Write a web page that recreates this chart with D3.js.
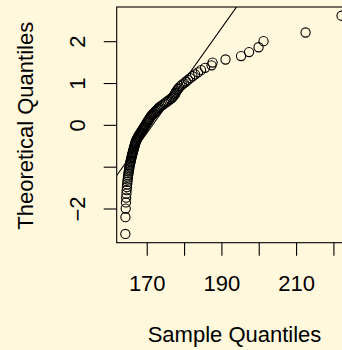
<!DOCTYPE html>
<html>
<head>
<meta charset="utf-8">
<script src="https://cdn.jsdelivr.net/npm/d3@7"></script>
<style>
  html, body { margin: 0; padding: 0; background: #FFF8DC; }
  svg { display: block; }
  text { font-family: "Liberation Sans", Arial, Helvetica, sans-serif; fill: #000; }
</style>
</head>
<body>
<svg id="chart" width="342" height="350"></svg>
<script>
// Sorted sample values (x axis, "Sample Quantiles")
const sampleValues = [
  164.27, 164.29, 164.37, 164.43, 164.48, 164.56, 164.62, 164.70, 164.75, 164.83,
  164.88, 164.96, 165.02, 165.10, 165.18, 165.26, 165.31, 165.39, 165.47, 165.55,
  165.63, 165.71, 165.79, 165.88, 165.96, 166.04, 166.12, 166.20, 166.30, 166.38,
  166.46, 166.54, 166.62, 166.71, 166.79, 166.87, 166.95, 167.03, 167.13, 167.26,
  167.40, 167.54, 167.67, 167.80, 167.99, 168.15, 168.31, 168.47, 168.63, 168.79,
  168.96, 169.12, 169.28, 169.44, 169.60, 169.76, 169.92, 170.08, 170.24, 170.40,
  170.56, 170.72, 170.88, 171.07, 171.29, 171.50, 171.71, 171.96, 172.22, 172.49,
  172.76, 173.03, 173.29, 173.56, 173.96, 174.37, 174.77, 175.17, 175.57, 175.97,
  176.38, 176.78, 177.04, 177.31, 177.58, 177.71, 177.85, 178.12, 178.38, 178.65,
  179.05, 179.46, 179.99, 180.53, 181.06, 181.60, 182.27, 182.94, 183.74, 184.54,
  185.62, 187.36, 187.63, 191.10, 195.26, 197.40, 199.95, 201.29, 212.54, 222.18
];

const xTickValues = [170, 180, 190, 200, 210, 220];
const xTickLabels = ["170", "", "190", "", "210", ""];   // R drops overlapping labels
const yTickValues = [-2, -1, 0, 1, 2];
const yTickLabels = ["\u22122", "", "0", "1", "2"];
const xTitle = "Sample Quantiles";
const yTitle = "Theoretical Quantiles";

// ---- statistics helpers (as in R's qqnorm / qqline) ----
function qnorm(p) {
  const a = [-3.969683028665376e+01, 2.209460984245205e+02, -2.759285104469687e+02,
             1.383577518672690e+02, -3.066479806614716e+01, 2.506628277459239e+00];
  const b = [-5.447609879822406e+01, 1.615858368580409e+02, -1.556989798598866e+02,
             6.680131188771972e+01, -1.328068155288572e+01];
  const c = [-7.784894002430293e-03, -3.223964580411365e-01, -2.400758277161838e+00,
             -2.549732539343734e+00, 4.374664141464968e+00, 2.938163982698783e+00];
  const d = [7.784695709041462e-03, 3.224671290700398e-01, 2.445134137142996e+00,
             3.754408661907416e+00];
  const pl = 0.02425, ph = 1 - pl;
  let q, r;
  if (p < pl) {
    q = Math.sqrt(-2 * Math.log(p));
    return (((((c[0]*q+c[1])*q+c[2])*q+c[3])*q+c[4])*q+c[5]) / ((((d[0]*q+d[1])*q+d[2])*q+d[3])*q+1);
  } else if (p <= ph) {
    q = p - 0.5; r = q * q;
    return (((((a[0]*r+a[1])*r+a[2])*r+a[3])*r+a[4])*r+a[5])*q / (((((b[0]*r+b[1])*r+b[2])*r+b[3])*r+b[4])*r+1);
  } else {
    q = Math.sqrt(-2 * Math.log(1 - p));
    return -(((((c[0]*q+c[1])*q+c[2])*q+c[3])*q+c[4])*q+c[5]) / ((((d[0]*q+d[1])*q+d[2])*q+d[3])*q+1);
  }
}
function quantile7(sorted, p) {
  const h = (sorted.length - 1) * p, lo = Math.floor(h);
  return sorted[lo] + (h - lo) * ((sorted[lo + 1] ?? sorted[lo]) - sorted[lo]);
}

const sorted = sampleValues.slice().sort((u, v) => u - v);
const n = sorted.length;
const aa = n <= 10 ? 3 / 8 : 0.5;
const points = sorted.map((v, i) => ({ x: v, y: qnorm((i + 1 - aa) / (n + 1 - 2 * aa)) }));

// ---- layout ----
const plotLeft = 116.7, plotRight = 350.2, plotTop = 7, plotBottom = 242.7;

function padExtent(ext) { const r = ext[1] - ext[0]; return [ext[0] - 0.04 * r, ext[1] + 0.04 * r]; }
const x = d3.scaleLinear().domain(padExtent(d3.extent(points, p => p.x))).range([plotLeft, plotRight]);
const y = d3.scaleLinear().domain(padExtent(d3.extent(points, p => p.y))).range([plotBottom, plotTop]);

const svg = d3.select("#chart");
svg.append("rect").attr("width", 342).attr("height", 350).attr("fill", "#FFF8DC");

svg.append("defs").append("clipPath").attr("id", "plotClip")
  .append("rect").attr("x", plotLeft).attr("y", plotTop)
  .attr("width", plotRight - plotLeft).attr("height", plotBottom - plotTop);

// qqline through the quartiles
const q1 = quantile7(sorted, 0.25), q3 = quantile7(sorted, 0.75);
const t1 = qnorm(0.25), t3 = qnorm(0.75);
const slope = (t3 - t1) / (q3 - q1);
const intercept = t1 - slope * q1;
const xd = x.domain();
svg.append("line")
  .attr("clip-path", "url(#plotClip)")
  .attr("x1", x(xd[0])).attr("y1", y(intercept + slope * xd[0]))
  .attr("x2", x(xd[1])).attr("y2", y(intercept + slope * xd[1]))
  .attr("stroke", "#000").attr("stroke-width", 1.1);

// points
svg.append("g").selectAll("circle").data(points).join("circle")
  .attr("cx", p => x(p.x)).attr("cy", p => y(p.y)).attr("r", 4.6)
  .attr("fill", "none").attr("stroke", "#000").attr("stroke-width", 1.1);

// box
svg.append("rect").attr("x", plotLeft).attr("y", plotTop)
  .attr("width", plotRight - plotLeft).attr("height", plotBottom - plotTop)
  .attr("fill", "none").attr("stroke", "#000").attr("stroke-width", 1.1);

// x axis
const gx = svg.append("g").attr("transform", `translate(0,${plotBottom})`)
  .call(d3.axisBottom(x).tickValues(xTickValues).tickSize(13)
    .tickFormat((d, i) => xTickLabels[i]));
gx.select(".domain").remove();
gx.selectAll(".tick line").attr("stroke", "#000").attr("stroke-width", 1.1);
gx.selectAll(".tick text").attr("y", 48.8).attr("dy", 0)
  .style("font-size", "22px").style("font-family", "'Liberation Sans', Arial, sans-serif").attr("fill", "#000");

// y axis
const gy = svg.append("g").attr("transform", `translate(${plotLeft},0)`)
  .call(d3.axisLeft(y).tickValues(yTickValues).tickSize(13)
    .tickFormat((d, i) => yTickLabels[i]));
gy.select(".domain").remove();
gy.selectAll(".tick line").attr("stroke", "#000").attr("stroke-width", 1.1);
gy.selectAll(".tick text").attr("x", 0).attr("y", 0).attr("dy", 0)
  .attr("text-anchor", "middle")
  .attr("transform", "translate(-31.5,0) rotate(-90)")
  .style("font-size", "22px").style("font-family", "'Liberation Sans', Arial, sans-serif").attr("fill", "#000");

// titles
svg.append("text").attr("x", (147 + 322) / 2).attr("y", 342)
  .attr("text-anchor", "middle").style("font-size", "22px").text(xTitle);
svg.append("text").attr("transform", `translate(32.5,${125.8}) rotate(-90)`)
  .attr("text-anchor", "middle").style("font-size", "22px").text(yTitle);
</script>
</body>
</html>
